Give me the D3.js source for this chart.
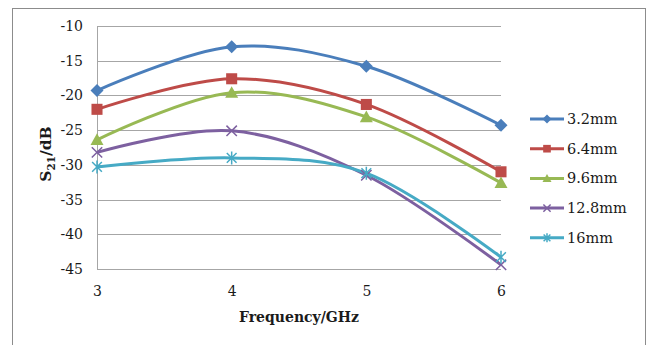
<!DOCTYPE html>
<html>
<head>
<meta charset="utf-8">
<script src="https://cdn.jsdelivr.net/npm/d3@7"></script>
<style>
  body { margin: 0; background: #fff; }
  svg { display: block; font-family: "DejaVu Serif", serif; }
</style>
</head>
<body>
<svg id="chart" width="652" height="345"></svg>
<script>
const frequencies = [3, 4, 5, 6];
const seriesNames = ['3.2mm', '6.4mm', '9.6mm', '12.8mm', '16mm'];
const s32 = [-19.3, -13.0, -15.8, -24.3];
const s64 = [-22.0, -17.6, -21.3, -31.0];
const s96 = [-26.4, -19.6, -23.1, -32.6];
const s128 = [-28.2, -25.1, -31.5, -44.4];
const s16 = [-30.3, -29.0, -31.2, -43.3];
const yTicks = [-10, -15, -20, -25, -30, -35, -40, -45];

const colors = ['#4a7ebb', '#be4b48', '#98b954', '#7d60a0', '#46aac5'];
const markers = ['diamond', 'square', 'triangle', 'x', 'star'];
const series = [s32, s64, s96, s128, s16].map((vals, i) => ({
  name: seriesNames[i],
  color: colors[i],
  marker: markers[i],
  values: vals.map((v, j) => ({ x: frequencies[j], y: v })),
}));

const svg = d3.select('#chart');

// outer chart frame
svg.append('rect')
  .attr('x', 12.5).attr('y', 8.5)
  .attr('width', 633).attr('height', 345)
  .attr('fill', 'none').attr('stroke', '#8c8c8c').attr('stroke-width', 1);

const x = d3.scaleLinear().domain([3, 6]).range([97, 501]);
const y = d3.scaleLinear().domain([-45, -10]).range([269, 26]);

// horizontal gridlines
svg.append('g')
  .selectAll('line')
  .data(yTicks)
  .join('line')
  .attr('x1', x(3)).attr('x2', x(6))
  .attr('y1', (d) => Math.round(y(d)) + 0.5)
  .attr('y2', (d) => Math.round(y(d)) + 0.5)
  .attr('stroke', '#a6a6a6');

// left axis line
svg.append('line')
  .attr('x1', x(3) + 0.5).attr('x2', x(3) + 0.5)
  .attr('y1', y(-10)).attr('y2', y(-45))
  .attr('stroke', '#a6a6a6');

const yAxis = d3.axisLeft(y).tickValues(yTicks).tickSize(0).tickPadding(14)
  .tickFormat((d) => d);
svg.append('g')
  .attr('transform', `translate(${x(3)},0)`)
  .call(yAxis)
  .call((g) => g.select('.domain').remove())
  .selectAll('text')
  .attr('font-family', '"DejaVu Serif", serif')
  .attr('font-size', 14)
  .attr('fill', '#1a1a1a');

const xAxis = d3.axisBottom(x).tickValues(frequencies).tickSize(0).tickPadding(17)
  .tickFormat(d3.format('d'));
svg.append('g')
  .attr('transform', `translate(0,${y(-45)})`)
  .call(xAxis)
  .call((g) => g.select('.domain').remove())
  .selectAll('text')
  .attr('font-family', '"DejaVu Serif", serif')
  .attr('font-size', 14)
  .attr('fill', '#1a1a1a');

// axis titles
svg.append('text')
  .attr('x', 299).attr('y', 322)
  .attr('text-anchor', 'middle')
  .attr('font-size', 14).attr('font-weight', 'bold')
  .attr('fill', '#1a1a1a')
  .text('Frequency/GHz');

const yTitle = svg.append('text')
  .attr('transform', 'translate(51,154) rotate(-90)')
  .attr('text-anchor', 'middle')
  .attr('font-size', 15.5).attr('font-weight', 'bold')
  .attr('fill', '#1a1a1a');
yTitle.append('tspan').text('S');
yTitle.append('tspan').attr('font-size', 10.5).attr('dy', 4).text('21');
yTitle.append('tspan').attr('dy', -4).text('/dB');

const line = d3.line()
  .x((d) => x(d.x))
  .y((d) => y(d.y))
  .curve(d3.curveCardinal.tension(0));

function drawMarker(g, type, color, size) {
  const s = size;
  if (type === 'diamond') {
    g.append('path').attr('d', `M0,${-s}L${s},0L0,${s}L${-s},0Z`).attr('fill', color);
  } else if (type === 'square') {
    g.append('rect').attr('x', -s * 0.85).attr('y', -s * 0.85)
      .attr('width', s * 1.7).attr('height', s * 1.7).attr('fill', color);
  } else if (type === 'triangle') {
    g.append('path').attr('d', `M0,${-s}L${s},${s * 0.8}L${-s},${s * 0.8}Z`).attr('fill', color);
  } else if (type === 'x') {
    const a = s * 0.8;
    g.append('path').attr('d', `M${-a},${-a}L${a},${a}M${-a},${a}L${a},${-a}`)
      .attr('stroke', color).attr('stroke-width', 1.5).attr('fill', 'none');
  } else {
    const a = s * 0.75;
    g.append('path')
      .attr('d', `M${-a},${-a}L${a},${a}M${-a},${a}L${a},${-a}M0,${-s}L0,${s}`)
      .attr('stroke', color).attr('stroke-width', 1.5).attr('fill', 'none');
  }
}

const plot = svg.append('g');
series.forEach((s) => {
  plot.append('path')
    .datum(s.values)
    .attr('d', line)
    .attr('fill', 'none')
    .attr('stroke', s.color)
    .attr('stroke-width', 3);
});
series.forEach((s) => {
  s.values.forEach((d) => {
    const g = plot.append('g').attr('transform', `translate(${x(d.x)},${y(d.y)})`);
    drawMarker(g, s.marker, s.color, 6.5);
  });
});

// legend
const legend = svg.append('g');
series.forEach((s, i) => {
  const ly = 119 + i * 29.7;
  const g = legend.append('g').attr('transform', `translate(0,${ly})`);
  g.append('line').attr('x1', 530).attr('x2', 564)
    .attr('stroke', s.color).attr('stroke-width', 3);
  const m = g.append('g').attr('transform', 'translate(547,0)');
  drawMarker(m, s.marker, s.color, 4.5);
  g.append('text').attr('x', 567).attr('y', 5)
    .attr('font-size', 14.5).attr('fill', '#1a1a1a')
    .text(s.name);
});
</script>
</body>
</html>
